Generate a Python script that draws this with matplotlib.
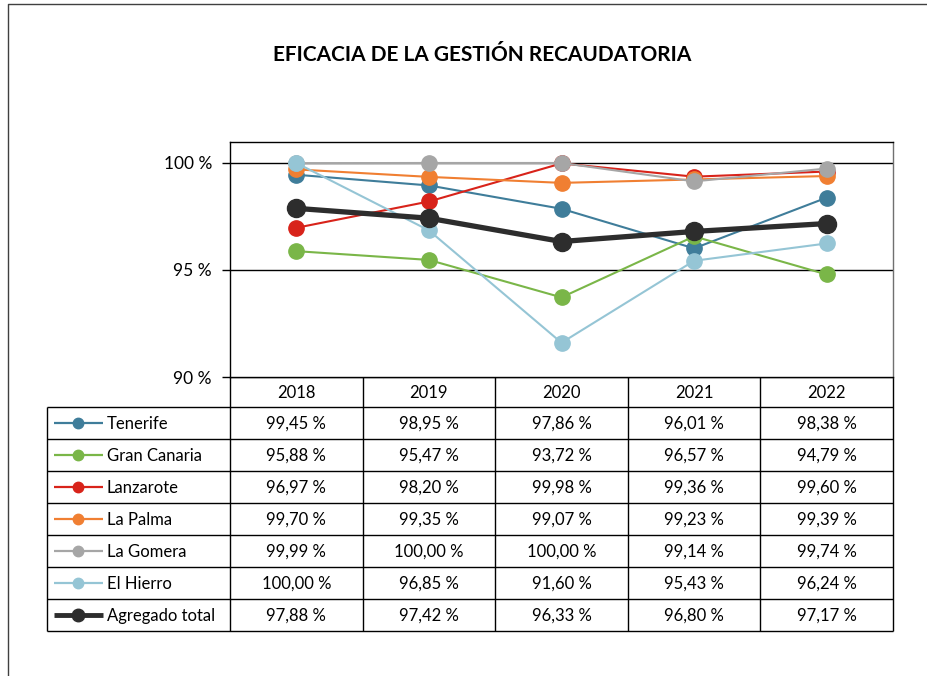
import numpy as np
import matplotlib
matplotlib.use('Agg')
import matplotlib.pyplot as plt

plt.rcParams['font.family'] = ['Lato', 'DejaVu Sans']

YEARS = ['2018', '2019', '2020', '2021', '2022']
ISLAS = ['Tenerife', 'Gran Canaria', 'Lanzarote', 'La Palma', 'La Gomera', 'El Hierro', 'Agregado total']
tenerife = [99.45, 98.95, 97.86, 96.01, 98.38]
gran_canaria = [95.88, 95.47, 93.72, 96.57, 94.79]
lanzarote = [96.97, 98.20, 99.98, 99.36, 99.60]
la_palma = [99.70, 99.35, 99.07, 99.23, 99.39]
la_gomera = [99.99, 100.00, 100.00, 99.14, 99.74]
el_hierro = [100.00, 96.85, 91.60, 95.43, 96.24]
agregado = [97.88, 97.42, 96.33, 96.80, 97.17]
SERIES = [tenerife, gran_canaria, lanzarote, la_palma, la_gomera, el_hierro, agregado]
COLORS = ['#3F7D9A', '#7AB648', '#D8231A', '#F07F32', '#A6A6A6', '#95C5D5', '#2D2D2D']

W, H = 928, 676
fig = plt.figure(figsize=(W / 100, H / 100), dpi=100)

# capa de fondo en coordenadas de pixel: marco + tabla
tax = fig.add_axes([0, 0, 1, 1])
tax.set_xlim(0, W); tax.set_ylim(H, 0); tax.axis('off')
tax.plot([8, 8, W], [H, 4, 4], color='#404040', lw=1)

x0, xl, xr = 47, 230, 893
col_w = (xr - xl) / len(YEARS)
y_hdr, y_rows, row_h = 377, 407, 32
y_end = y_rows + row_h * len(ISLAS)
k = dict(color='black', lw=1, solid_capstyle='butt')
for i in range(len(YEARS) + 1):
    tax.plot([xl + i * col_w] * 2, [y_hdr, y_end], **k)
tax.plot([x0, x0], [y_rows, y_end], **k)
tax.plot([xl, xr], [y_hdr, y_hdr], **k)
for j in range(len(ISLAS) + 1):
    tax.plot([x0, xr], [y_rows + j * row_h] * 2, **k)
for i, yr in enumerate(YEARS):
    tax.text(xl + (i + 0.5) * col_w, (y_hdr + y_rows) / 2 + 1, yr, ha='center', va='center', fontsize=12)
for j, (name, vals, c) in enumerate(zip(ISLAS, SERIES, COLORS)):
    yc = y_rows + (j + 0.5) * row_h
    tot = name == 'Agregado total'
    tax.plot([54, 103], [yc, yc], color=c, lw=3.5 if tot else 1.6, solid_capstyle='butt')
    tax.plot([78], [yc], 'o', color=c, ms=9 if tot else 7.5)
    tax.text(107, yc + 1, name, ha='left', va='center', fontsize=12)
    for i, v in enumerate(vals):
        txt = f'{v:.2f} %'.replace('.', ',')
        tax.text(xl + (i + 0.5) * col_w, yc + 1, txt, ha='center', va='center', fontsize=12)

# gráfico de líneas
ax = fig.add_axes([xl / W, 1 - 377 / H, (xr - xl) / W, (377 - 142) / H])
x = np.arange(len(YEARS))
for name, vals, c in zip(ISLAS, SERIES, COLORS):
    tot = name == 'Agregado total'
    ax.plot(x, vals, '-o', color=c, lw=3.8 if tot else 1.5, ms=13 if tot else 11, label=name, zorder=3)
ax.set_xlim(-0.5, len(YEARS) - 0.5)
ax.set_ylim(90, 100.98)
ax.set_yticks([90, 95, 100])
ax.set_yticklabels(['90 %', '95 %', '100 %'], fontsize=12.5)
ax.set_xticks([])
for yv in [95, 100]:
    ax.axhline(yv, color='black', lw=1, zorder=1)
for s in ax.spines.values():
    s.set_color('black'); s.set_linewidth(1)
ax.spines['right'].set_color('#707070')
ax.tick_params(axis='y', length=6, width=1, pad=7)

fig.text(482 / W, 1 - 55 / H, 'EFICACIA DE LA GESTIÓN RECAUDATORIA', ha='center', va='center',
         fontsize=15, fontweight='bold')

fig.savefig('out.png', dpi=100)
